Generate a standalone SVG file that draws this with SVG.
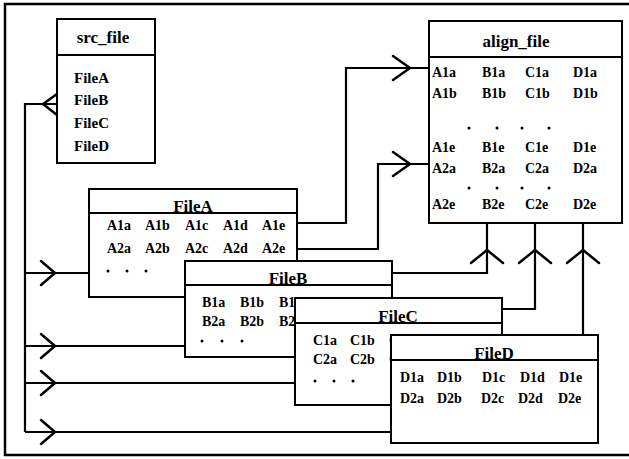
<svg xmlns="http://www.w3.org/2000/svg" width="629" height="459" viewBox="0 0 629 459">
<defs>
<style>
.frame{fill:none;stroke:#000;stroke-width:2.5}
.box{fill:#fff;stroke:#000;stroke-width:2}
.div{stroke:#000;stroke-width:1.8}
.con{fill:none;stroke:#000;stroke-width:2.2}
.ah{fill:none;stroke:#000;stroke-width:2.5;stroke-linecap:round;stroke-linejoin:round}
text{font-family:"Liberation Serif","Times New Roman",serif;font-weight:bold;font-size:14px;fill:#000}
.t{text-anchor:middle;font-size:17px}
.s{font-size:15px}
.dot{fill:#000}
</style>
</defs>
<rect x="0" y="0" width="629" height="459" fill="#fff"/>
<path class="frame" d="M629,4 H5 V455 H629"/>

<g id="connectors">
  <path class="con" d="M57,104 H25 V432"/>
  <path class="ah" d="M57,94 L43,104 L57,115"/>
  <path class="con" d="M25,273 H89"/>
  <path class="ah" d="M41,261 L55,273 L41,285"/>
  <path class="con" d="M25,346 H185"/>
  <path class="ah" d="M41,334 L55,346 L41,358"/>
  <path class="con" d="M25,383 H295"/>
  <path class="ah" d="M41,371 L55,383 L41,395"/>
  <path class="con" d="M25,432 H391"/>
  <path class="ah" d="M41,420 L55,432 L41,444"/>
  <path class="con" d="M297,223 H346 V68 H429"/>
  <path class="ah" d="M393,56 L410,68 L393,80"/>
  <path class="con" d="M297,249 H378 V164 H429"/>
  <path class="ah" d="M393,152 L410,164 L393,176"/>
  <path class="con" d="M392,273 H487 V223"/>
  <path class="ah" d="M471,263 L487,250 L503,263"/>
  <path class="con" d="M502,309 H535 V223"/>
  <path class="ah" d="M519,263 L535,250 L551,263"/>
  <path class="con" d="M583,335 V223"/>
  <path class="ah" d="M567,263 L583,250 L599,263"/>
</g>

<g id="src_file">
  <rect class="box" x="57" y="19" width="98" height="144"/>
  <line class="div" x1="57" y1="55" x2="155" y2="55"/>
  <text class="t" x="103" y="43">src_file</text>
  <text class="s" x="74" y="83">FileA</text>
  <text class="s" x="74" y="105">FileB</text>
  <text class="s" x="74" y="128">FileC</text>
  <text class="s" x="74" y="151">FileD</text>
</g>

<g id="align_file">
  <rect class="box" x="429" y="21" width="193" height="202"/>
  <line class="div" x1="429" y1="57" x2="622" y2="57"/>
  <text class="t" x="516" y="47">align_file</text>
  <text x="432" y="77">A1a</text><text x="482" y="77">B1a</text><text x="525" y="77">C1a</text><text x="573" y="77">D1a</text>
  <text x="432" y="98">A1b</text><text x="482" y="98">B1b</text><text x="525" y="98">C1b</text><text x="573" y="98">D1b</text>
  <circle class="dot" cx="469" cy="128" r="1.5"/><circle class="dot" cx="497" cy="128" r="1.5"/><circle class="dot" cx="522" cy="128" r="1.5"/><circle class="dot" cx="549" cy="128" r="1.5"/>
  <text x="432" y="152">A1e</text><text x="482" y="152">B1e</text><text x="525" y="152">C1e</text><text x="573" y="152">D1e</text>
  <text x="432" y="173">A2a</text><text x="482" y="173">B2a</text><text x="525" y="173">C2a</text><text x="573" y="173">D2a</text>
  <circle class="dot" cx="469" cy="188" r="1.5"/><circle class="dot" cx="497" cy="188" r="1.5"/><circle class="dot" cx="522" cy="188" r="1.5"/><circle class="dot" cx="549" cy="188" r="1.5"/>
  <text x="432" y="209">A2e</text><text x="482" y="209">B2e</text><text x="525" y="209">C2e</text><text x="573" y="209">D2e</text>
</g>

<g id="FileA">
  <rect class="box" x="89" y="189" width="208" height="108"/>
  <line class="div" x1="89" y1="213" x2="297" y2="213"/>
  <text class="t" x="193" y="212">FileA</text>
  <text x="107" y="230">A1a</text><text x="145" y="230">A1b</text><text x="185" y="230">A1c</text><text x="223" y="230">A1d</text><text x="262" y="230">A1e</text>
  <text x="107" y="253">A2a</text><text x="145" y="253">A2b</text><text x="185" y="253">A2c</text><text x="223" y="253">A2d</text><text x="262" y="253">A2e</text>
  <circle class="dot" cx="108" cy="271" r="1.5"/><circle class="dot" cx="127" cy="271" r="1.5"/><circle class="dot" cx="146" cy="271" r="1.5"/>
</g>

<g id="FileB">
  <rect class="box" x="185" y="261" width="207" height="96"/>
  <line class="div" x1="185" y1="285" x2="392" y2="285"/>
  <text class="t" x="288" y="284">FileB</text>
  <text x="202" y="307">B1a</text><text x="240" y="307">B1b</text><text x="279" y="307">B1c</text>
  <text x="202" y="326">B2a</text><text x="240" y="326">B2b</text><text x="279" y="326">B2c</text>
  <circle class="dot" cx="202" cy="341" r="1.5"/><circle class="dot" cx="222" cy="341" r="1.5"/><circle class="dot" cx="242" cy="341" r="1.5"/>
</g>

<g id="FileC">
  <rect class="box" x="295" y="298" width="207" height="107"/>
  <line class="div" x1="295" y1="323" x2="502" y2="323"/>
  <text class="t" x="398" y="322">FileC</text>
  <text x="313" y="345">C1a</text><text x="350" y="345">C1b</text><text x="389" y="345">C1c</text>
  <text x="313" y="364">C2a</text><text x="350" y="364">C2b</text><text x="389" y="364">C2c</text>
  <circle class="dot" cx="315" cy="381" r="1.5"/><circle class="dot" cx="334" cy="381" r="1.5"/><circle class="dot" cx="353" cy="381" r="1.5"/>
</g>

<g id="FileD">
  <rect class="box" x="391" y="335" width="207" height="108"/>
  <line class="div" x1="391" y1="360" x2="598" y2="360"/>
  <text class="t" x="494" y="359">FileD</text>
  <text x="400" y="382">D1a</text><text x="437" y="382">D1b</text><text x="482" y="382">D1c</text><text x="520" y="382">D1d</text><text x="559" y="382">D1e</text>
  <text x="400" y="403">D2a</text><text x="437" y="403">D2b</text><text x="481" y="403">D2c</text><text x="518" y="403">D2d</text><text x="558" y="403">D2e</text>
</g>
</svg>
